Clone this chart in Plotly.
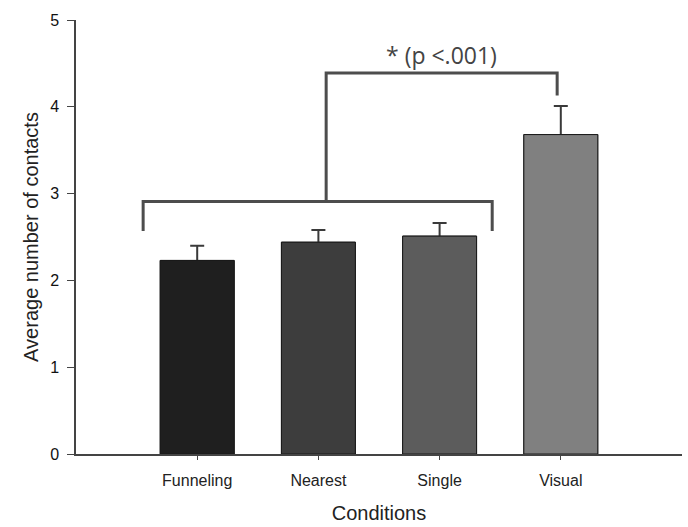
import plotly.graph_objects as go

categories = ["Funneling", "Nearest", "Single", "Visual"]
means = [2.23, 2.44, 2.51, 3.68]
errors = [0.17, 0.14, 0.15, 0.33]
bar_colors = ["#1f1f1f", "#3d3d3d", "#5c5c5c", "#808080"]
y_ticks = [0, 1, 2, 3, 4, 5]

# significance bracket levels (data units)
group_bracket_y = 2.91
group_bracket_low = 2.57
top_bracket_y = 4.39
top_bracket_low = 4.13
label_y = 4.6

xpos = list(range(len(categories)))

fig = go.Figure()
# bars carrying the error bars (lower half gets hidden by the overlay below)
fig.add_trace(go.Bar(
    x=xpos, y=means, width=0.61,
    marker=dict(color=bar_colors, line=dict(color="#1a1a1a", width=1)),
    error_y=dict(type="data", array=errors, symmetric=True,
                 color="#3a3a3a", thickness=2, width=7),
))
# same bars drawn on top, covering the lower half of each error bar
fig.add_trace(go.Bar(
    x=xpos, y=means, width=0.61,
    marker=dict(color=bar_colors, line=dict(color="#1a1a1a", width=1)),
))

line = dict(color="#4d4d4d", width=3)
lx0, lx1, mx, rx = -0.446, 2.434, 1.064, 2.97
# group bracket
fig.add_shape(type="path",
              path=f"M {lx0} {group_bracket_low} L {lx0} {group_bracket_y} L {lx1} {group_bracket_y} L {lx1} {group_bracket_low}",
              line=line, xref="x", yref="y")
# connecting bracket
fig.add_shape(type="path",
              path=f"M {mx} {group_bracket_y} L {mx} {top_bracket_y} L {rx} {top_bracket_y} L {rx} {top_bracket_low}",
              line=line, xref="x", yref="y")

fig.add_annotation(x=(mx + rx) / 2, y=label_y, text="* (p <.001)",
                   showarrow=False, yanchor="middle",
                   font=dict(family="Open Sans, Liberation Sans", size=23, color="#444"))

fig.update_layout(
    width=688, height=527,
    margin=dict(l=76, r=6, t=20, b=71),
    plot_bgcolor="white", paper_bgcolor="white",
    showlegend=False, barmode="overlay",
    font=dict(family="Liberation Sans, Arial", color="#222"),
)
fig.update_xaxes(
    range=[-1, 4], tickvals=xpos, ticktext=categories,
    showline=True, linecolor="#444", linewidth=1.5,
    ticks="outside", ticklen=4, tickcolor="#444", ticklabelstandoff=7,
    tickfont=dict(size=16), showgrid=False, zeroline=False,
    title=dict(text="Conditions", font=dict(size=20), standoff=18),
)
fig.update_yaxes(
    range=[0, 5], tickvals=y_ticks,
    showline=True, linecolor="#444", linewidth=1.5,
    ticks="outside", ticklen=7, tickcolor="#444", ticklabelstandoff=5,
    tickfont=dict(size=16, color="#111"), showgrid=False, zeroline=False,
    title=dict(text="Average number of contacts", font=dict(size=20), standoff=6),
)

fig.write_html("out.html", config={"displayModeBar": False},
               post_script="document.body.style.margin='0';document.body.style.overflow='hidden';")
